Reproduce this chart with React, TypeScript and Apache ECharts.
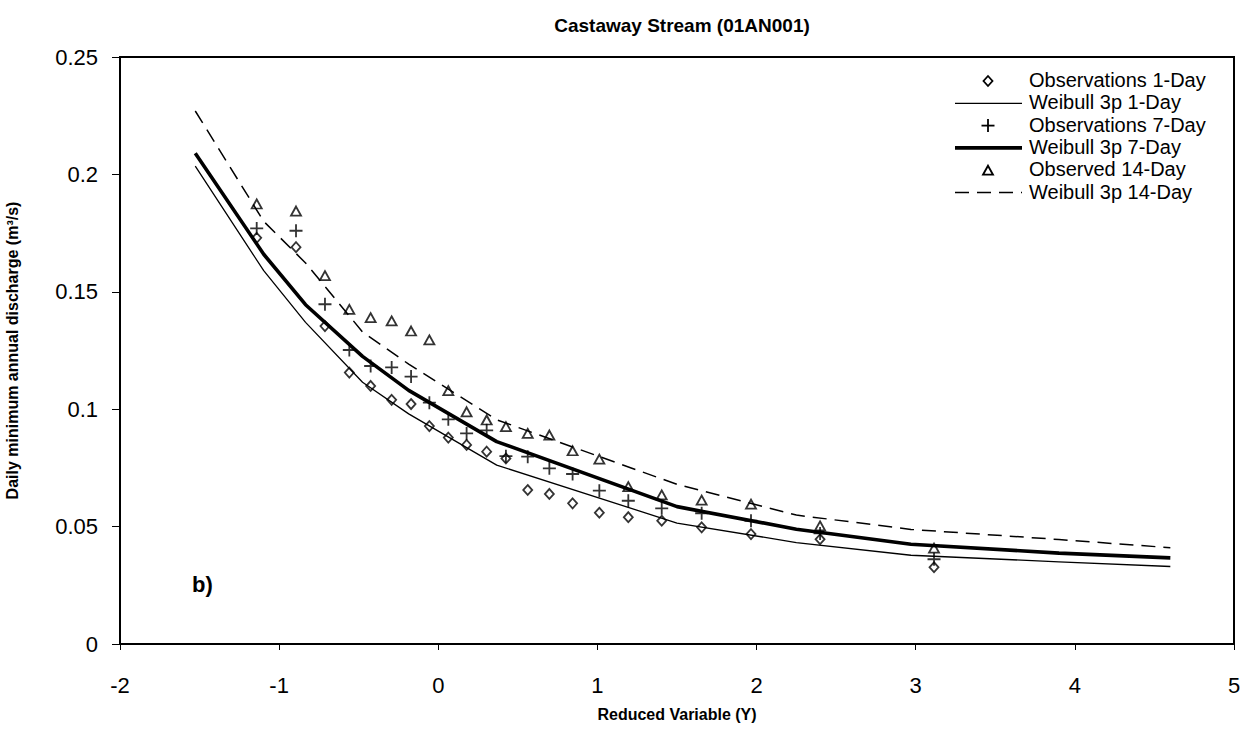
import React, { useEffect, useRef } from "react";
import * as echarts from "echarts";

const reducedVariable = [-1.141, -0.894, -0.712, -0.559, -0.425, -0.293, -0.171, -0.056, 0.063, 0.178, 0.304, 0.425, 0.562, 0.698, 0.844, 1.012, 1.194, 1.404, 1.655, 1.965, 2.399, 3.115];
const obs1Day = [0.173, 0.169, 0.1354, 0.1156, 0.1099, 0.104, 0.1022, 0.0928, 0.0879, 0.0848, 0.0819, 0.079, 0.0656, 0.0639, 0.0599, 0.0559, 0.054, 0.0525, 0.0497, 0.0468, 0.0446, 0.0327];
const obs7Day = [0.177, 0.176, 0.1447, 0.1252, 0.1184, 0.1178, 0.1139, 0.1028, 0.0957, 0.0897, 0.091, 0.080, 0.0798, 0.0748, 0.0724, 0.0653, 0.061, 0.0578, 0.0557, 0.0525, 0.0471, 0.0361];
const obs14Day = [0.1874, 0.1844, 0.1569, 0.1425, 0.139, 0.1376, 0.1333, 0.1295, 0.1079, 0.0989, 0.0954, 0.0926, 0.0897, 0.089, 0.0823, 0.0787, 0.067, 0.0635, 0.0613, 0.0596, 0.0503, 0.0408];

const curveX = [-1.527, -1.097, -0.834, -0.476, -0.186, 0.367, 1.5, 2.25, 2.97, 3.9, 4.6];
const weibull1Day = [0.2035, 0.159, 0.137, 0.1115, 0.098, 0.0762, 0.0515, 0.0432, 0.0378, 0.035, 0.033];
const weibull7Day = [0.209, 0.166, 0.1445, 0.1225, 0.108, 0.0862, 0.0585, 0.0489, 0.0425, 0.0387, 0.0367];
const weibull14Day = [0.227, 0.180, 0.1623, 0.1329, 0.1192, 0.0955, 0.068, 0.0549, 0.0488, 0.0445, 0.041];

const legendLabels = ["Observations 1-Day", "Weibull 3p 1-Day", "Observations 7-Day", "Weibull 3p 7-Day", "Observed 14-Day", "Weibull 3p 14-Day"];

const xTicks = { min: -2, max: 5, interval: 1 };
const yTicks = { min: 0, max: 0.25, interval: 0.05 };

const FONT = "Liberation Sans, Arial, sans-serif";
const PLUS = "path://M4.3,0H5.7V4.3H10V5.7H5.7V10H4.3V5.7H0V4.3H4.3Z";

const pairs = (xs: number[], ys: number[]) => xs.map((x, i) => [x, ys[i]]);

function legendGraphics() {
  const x0 = 955, x1 = 1022, mx = 988, tx = 1029, y0 = 81, dy = 22.3;
  const items: any[] = [];
  legendLabels.forEach((label, i) => {
    const y = y0 + i * dy;
    items.push({ type: "text", left: tx, top: y - 11, style: { text: label, font: `20px ${FONT}`, fill: "#000" } });
  });
  const yy = (i: number) => y0 + i * dy;
  items.push({ type: "polygon", shape: { points: [[mx, yy(0) - 5], [mx + 4.5, yy(0)], [mx, yy(0) + 5], [mx - 4.5, yy(0)]] }, style: { fill: "none", stroke: "#000", lineWidth: 1.8 } });
  items.push({ type: "line", shape: { x1: x0, y1: yy(1), x2: x1, y2: yy(1) }, style: { stroke: "#000", lineWidth: 1.3 } });
  items.push({ type: "line", shape: { x1: mx - 6.5, y1: yy(2), x2: mx + 6.5, y2: yy(2) }, style: { stroke: "#000", lineWidth: 1.8 } });
  items.push({ type: "line", shape: { x1: mx, y1: yy(2) - 6.5, x2: mx, y2: yy(2) + 6.5 }, style: { stroke: "#000", lineWidth: 1.8 } });
  items.push({ type: "line", shape: { x1: x0, y1: yy(3), x2: x1, y2: yy(3) }, style: { stroke: "#000", lineWidth: 3.6 } });
  items.push({ type: "polygon", shape: { points: [[mx, yy(4) - 4.5], [mx + 5, yy(4) + 4.5], [mx - 5, yy(4) + 4.5]] }, style: { fill: "none", stroke: "#000", lineWidth: 1.8 } });
  items.push({ type: "line", shape: { x1: x0, y1: yy(5), x2: x1, y2: yy(5) }, style: { stroke: "#000", lineWidth: 1.5, lineDash: [14, 8] } });
  return items;
}

export default function App() {
  const ref = useRef<HTMLDivElement>(null);
  useEffect(() => {
    if (!ref.current) return;
    const chart = echarts.init(ref.current, null, { renderer: "svg" });
    chart.setOption({
      animation: false,
      backgroundColor: "#fff",
      title: {
        text: "Castaway Stream (01AN001)",
        left: 677,
        textAlign: "center",
        top: 11,
        textStyle: { fontFamily: FONT, fontSize: 19, fontWeight: "bold", color: "#000" },
      },
      grid: { left: 120, right: 12, top: 57, bottom: 96, show: true, borderColor: "#000", borderWidth: 2, backgroundColor: "transparent", outerBoundsMode: "none", containLabel: false },
      xAxis: {
        type: "value",
        min: xTicks.min,
        max: xTicks.max,
        interval: xTicks.interval,
        name: "Reduced Variable (Y)",
        nameLocation: "middle",
        nameGap: 62,
        nameTextStyle: { fontFamily: FONT, fontSize: 16, fontWeight: "bold", color: "#000" },
        axisLine: { onZero: false, lineStyle: { color: "#000", width: 2 } },
        axisTick: { show: true, inside: false, length: 6, lineStyle: { color: "#000", width: 1 } },
        axisLabel: { fontFamily: FONT, fontSize: 22, color: "#000", margin: 30 },
        splitLine: { show: false },
      },
      yAxis: {
        type: "value",
        min: yTicks.min,
        max: yTicks.max,
        interval: yTicks.interval,
        name: "Daily minimum annual discharge (m³/s)",
        nameLocation: "middle",
        nameGap: 100,
        nameTextStyle: { fontFamily: FONT, fontSize: 16, fontWeight: "bold", color: "#000" },
        axisLine: { show: true, onZero: false, lineStyle: { color: "#000", width: 2 } },
        axisTick: { show: true, inside: false, length: 8, lineStyle: { color: "#000", width: 1 } },
        axisLabel: { fontFamily: FONT, fontSize: 22, color: "#000", margin: 22 },
        splitLine: { show: false },
      },
      graphic: [
        { type: "text", left: 192, top: 573, style: { text: "b)", font: `bold 22px ${FONT}`, fill: "#000" } },
        ...legendGraphics(),
      ],
      series: [
        {
          name: "Observations 1-Day",
          type: "scatter",
          symbol: "diamond",
          symbolSize: [9, 10],
          itemStyle: { color: "none", borderColor: "#000", borderWidth: 1.8 },
          data: pairs(reducedVariable, obs1Day),
          z: 5,
        },
        {
          name: "Weibull 3p 1-Day",
          type: "line",
          symbol: "none",
          lineStyle: { color: "#000", width: 1.3 },
          data: pairs(curveX, weibull1Day),
        },
        {
          name: "Observations 7-Day",
          type: "scatter",
          symbol: PLUS,
          symbolSize: 13,
          itemStyle: { color: "#000" },
          data: pairs(reducedVariable, obs7Day),
          z: 5,
        },
        {
          name: "Weibull 3p 7-Day",
          type: "line",
          symbol: "none",
          lineStyle: { color: "#000", width: 3.6 },
          data: pairs(curveX, weibull7Day),
        },
        {
          name: "Observed 14-Day",
          type: "scatter",
          symbol: "triangle",
          symbolSize: [10, 9],
          itemStyle: { color: "none", borderColor: "#000", borderWidth: 1.8 },
          data: pairs(reducedVariable, obs14Day),
          z: 5,
        },
        {
          name: "Weibull 3p 14-Day",
          type: "line",
          symbol: "none",
          lineStyle: { color: "#000", width: 1.5, type: [14, 8] },
          data: pairs(curveX, weibull14Day),
        },
      ],
    });
    return () => chart.dispose();
  }, []);
  return <div ref={ref} style={{ position: "fixed", left: 0, top: 0, width: 1246, height: 740 }} />;
}
